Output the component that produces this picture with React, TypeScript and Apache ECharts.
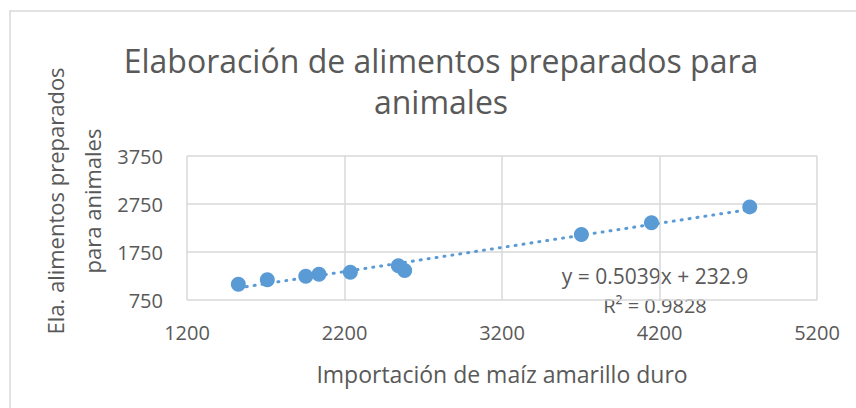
import React, { useEffect, useRef } from "react";
import * as echarts from "echarts";

const importacion = [1526, 1710, 1954, 2038, 2237, 2542, 2582, 3704, 4149, 4773];
const elaboracion = [1076, 1172, 1243, 1284, 1326, 1463, 1367, 2116, 2357, 2690];
const slope = 0.5039;
const intercept = 232.9;
const rSquared = 0.9828;

const titleText = "Elaboración de alimentos preparados para\nanimales";
const xName = "Importación de maíz amarillo duro";
const yName = "Ela. alimentos preparados\npara animales";

const FONT = "Open Sans, Noto Sans, sans-serif";
const TEXT = "#595959";
const GRID = "#d9d9d9";
const BLUE = "#5b9bd5";

export default function App() {
  const ref = useRef<HTMLDivElement>(null);
  useEffect(() => {
    if (!ref.current) return;
    const chart = echarts.init(ref.current, undefined, { renderer: "svg" });
    const points = importacion.map((x, i) => [x, elaboracion[i]]);
    const xmin = Math.min(...importacion);
    const xmax = Math.max(...importacion);
    const trend = [
      [xmin, slope * xmin + intercept],
      [xmax, slope * xmax + intercept],
    ];
    chart.setOption({
      animation: false,
      backgroundColor: "#ffffff",
      textStyle: { fontFamily: FONT },
      title: {
        text: titleText,
        left: 436,
        top: 35,
        textAlign: "center",
        textStyle: {
          fontFamily: FONT,
          fontSize: 32,
          fontWeight: "normal",
          color: TEXT,
          lineHeight: 41,
        },
      },
      grid: { left: 187, right: 39, top: 156, bottom: 108, containLabel: false },
      xAxis: {
        type: "value",
        min: 1200,
        max: 5200,
        interval: 1000,
        name: xName,
        nameLocation: "middle",
        nameGap: 62,
        nameTextStyle: { fontFamily: FONT, fontSize: 23, color: TEXT },
        axisLine: { show: false },
        axisTick: { show: false },
        axisLabel: {
          fontFamily: FONT,
          fontSize: 20,
          color: TEXT,
          margin: 22,
          formatter: (v: number) => String(v),
        },
        splitLine: { show: true, lineStyle: { color: GRID, width: 1.5 } },
      },
      yAxis: {
        type: "value",
        min: 750,
        max: 3750,
        interval: 1000,
        axisLine: { show: false },
        axisTick: { show: false },
        axisLabel: {
          fontFamily: FONT,
          fontSize: 20,
          color: TEXT,
          margin: 24,
          formatter: (v: number) => String(v),
        },
        splitLine: { show: true, lineStyle: { color: GRID, width: 1.5 } },
      },
      graphic: [
        {
          type: "rect",
          shape: { x: 10, y: 11, width: 900, height: 500 },
          style: { fill: "none", stroke: GRID, lineWidth: 1.5 },
          silent: true,
          z: -10,
        },
        {
          type: "text",
          x: 73,
          y: 201,
          rotation: Math.PI / 2,
          style: {
            text: yName,
            fontFamily: FONT,
            fontSize: 22,
            lineHeight: 37,
            fill: TEXT,
            align: "center",
            verticalAlign: "middle",
          },
        },
        {
          type: "text",
          x: 655,
          y: 276,
          style: {
            text: `y = ${slope}x + ${intercept}`,
            fontFamily: FONT,
            fontSize: 21,
            fill: TEXT,
            align: "center",
            verticalAlign: "middle",
          },
        },
        {
          type: "text",
          x: 655,
          y: 305,
          style: {
            text: `R² = ${rSquared}`,
            fontFamily: FONT,
            fontSize: 20,
            lineHeight: 20,
            fill: TEXT,
            align: "center",
            verticalAlign: "middle",
          },
        },
      ],
      series: [
        {
          type: "line",
          data: trend,
          symbol: "none",
          z: 1,
          lineStyle: { color: BLUE, width: 3, type: [1, 7], cap: "round" },
          silent: true,
        },
        {
          type: "scatter",
          data: points,
          symbol: "circle",
          symbolSize: 15,
          z: 2,
          itemStyle: { color: BLUE, opacity: 1 },
        },
      ],
    });
    return () => chart.dispose();
  }, []);
  return (
    <div
      ref={ref}
      style={{ position: "fixed", left: 0, top: 0, width: 856, height: 408 }}
    />
  );
}
